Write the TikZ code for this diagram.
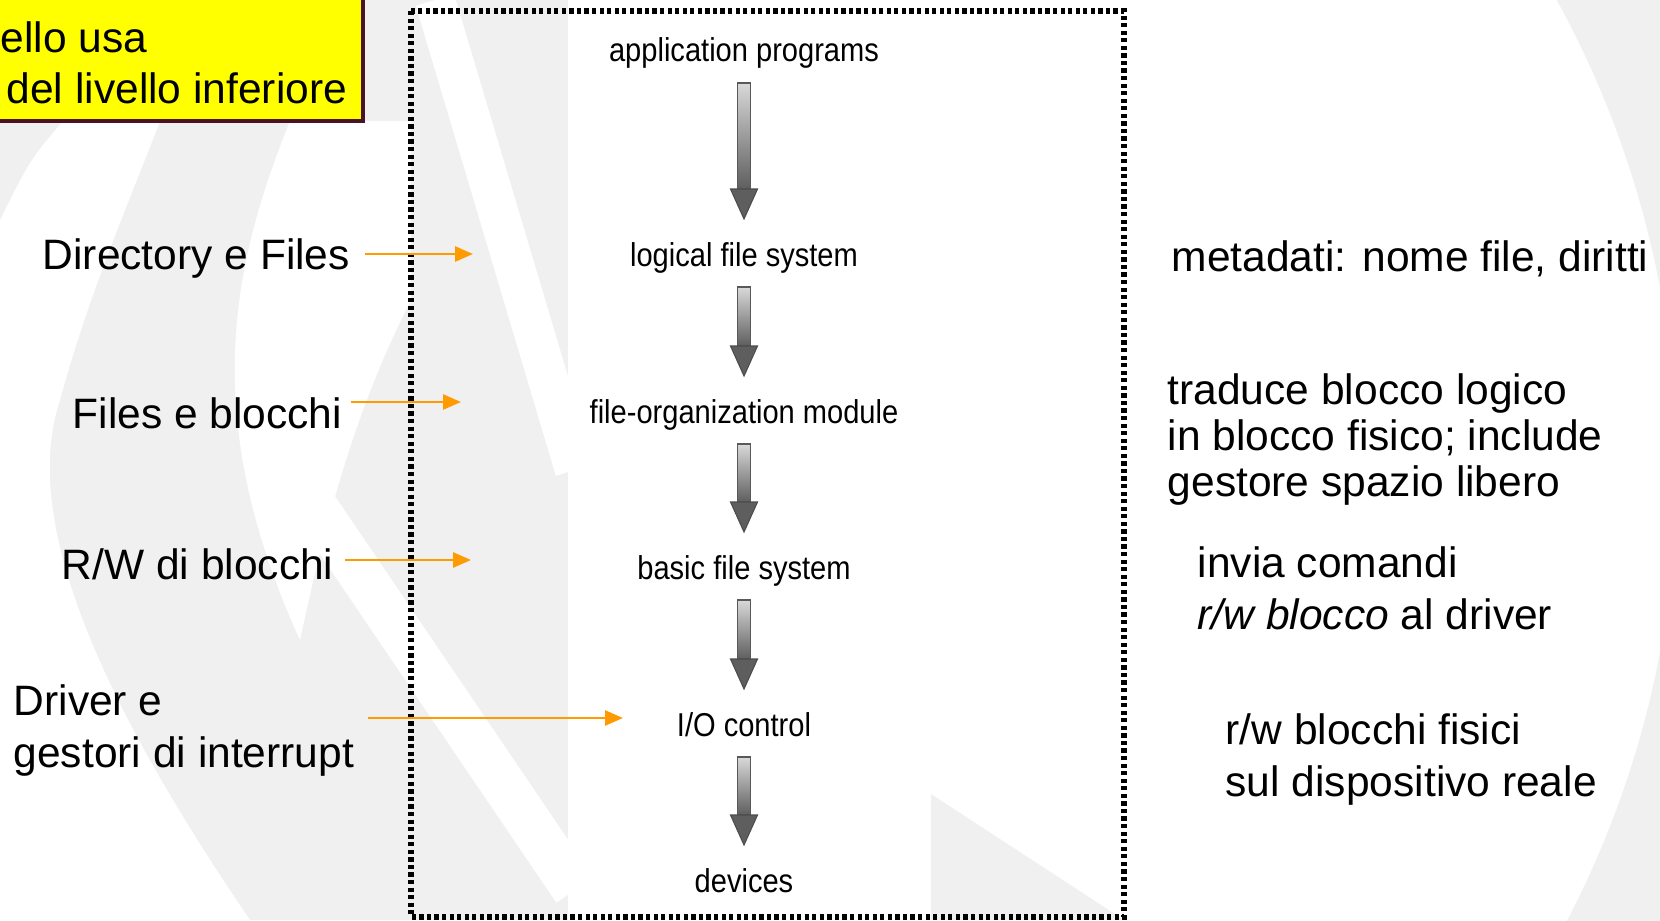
\documentclass[tikz,border=0pt]{standalone}
\usepackage{fontspec}
\setmainfont{Liberation Sans}
\newfontfamily\figfont[FakeStretch=0.88]{Liberation Sans}
\usetikzlibrary{arrows.meta,positioning,calc}
\definecolor{slidebg}{HTML}{F0F0F0}
\definecolor{noteorange}{HTML}{FF9A00}
\definecolor{noteyellow}{HTML}{FFFF00}
\definecolor{noteframe}{HTML}{4A1426}
\definecolor{shaftdark}{HTML}{5E5E5E}

% gray block arrow between two stacked layers
\newcommand{\stackarrow}[2]{%
  \shade[top color=gray!30,bottom color=shaftdark,draw=black!65,line width=0.3pt]
    ($(#1.base)+(-0.065,-0.21)$) rectangle ($(#2.base)+(0.065,0.77)$);
  \fill[shaftdark,draw=black!70,line width=0.3pt]
    ($(#2.base)+(-0.135,0.77)$) -- ($(#2.base)+(0.135,0.77)$)
    -- ($(#2.base)+(0,0.47)$) -- cycle;
}

\begin{document}
\begin{tikzpicture}[
  font=\fontsize{12.1}{14.6}\selectfont,
  layer/.style={font=\figfont\fontsize{9.4}{11}\selectfont,inner sep=0pt,
                anchor=base},
  side/.style={inner sep=0pt,align=left,anchor=base west},
  feed/.style={-{Triangle[length=0.18cm,width=0.15cm]},draw=noteorange,
               line width=0.75pt},
  stripe/.style={draw=white,line cap=butt},
  frame/.style={draw=black,line width=1.6pt,dash pattern=on 1.2pt off 0.95pt}
]
\useasboundingbox (0,0) rectangle (16.6,9.2);
\fill[white] (0,0) rectangle (16.6,9.2);

% slide background swooshes
\fill[slidebg] (0,0) rectangle (5.68,9.2);
\fill[white] (0.63,7.99) .. controls (0.3,7.6) .. (0,7.0) -- (0,0) -- (2.5,0)
  .. controls (1.0,2.2) and (0.2,4.0) .. (0.6,5.2)
  .. controls (0.9,6.3) and (1.3,7.2) .. (1.6,7.99) -- cycle;
\fill[white] (2.9,7.99) .. controls (2.3,6.5) and (2.0,5.0) .. (3.0,2.8)
  .. controls (3.3,4.2) and (3.6,5.2) .. (4.11,6.2) -- (4.11,7.99) -- cycle;
\draw[stripe,line width=0.4cm] (4.35,9.2) -- (5.75,4.5);
\draw[stripe,line width=0.45cm] (2.9,4.5) -- (5.75,0.3);
\fill[white] (5.68,0.03) rectangle (9.31,9.09);
\fill[slidebg] (9.31,1.26) -- (11.24,0) -- (9.31,0) -- cycle;
\begin{scope}
  \clip (11.3,0) rectangle (16.6,9.2);
  \draw[draw=slidebg,line width=1cm] (7.0,4.5) circle (10.27);
\end{scope}

% yellow note, cut by the slide edge
\node[draw=noteframe,line width=1pt,fill=noteyellow,inner sep=0pt,
      minimum width=3.7cm,minimum height=1.26cm,anchor=north east]
  (note) at (3.65,9.27) {};
\node[side] (notea) at (0.0,8.67) {ello usa};
\node[side] (noteb) at (0.06,8.16) {del livello inferiore};

\draw[frame] (4.11,9.09) rectangle (11.24,0.03);

% the layers
\node[layer] (app) at (7.44,8.58) {application programs};
\node[layer] (lfs) at (7.44,6.54) {logical file system};
\node[layer] (fom) at (7.44,4.97) {file-organization module};
\node[layer] (bfs) at (7.44,3.41) {basic file system};
\node[layer] (ioc) at (7.44,1.84) {I/O control};
\node[layer] (dev) at (7.44,0.28) {devices};

\stackarrow{app}{lfs}
\stackarrow{lfs}{fom}
\stackarrow{fom}{bfs}
\stackarrow{bfs}{ioc}
\stackarrow{ioc}{dev}

% what each layer handles
\node[side] (dir) at (0.42,6.51) {Directory e Files};
\node[side] (blk) at (0.72,4.92) {Files e blocchi};
\node[side] (rw) at (0.61,3.41) {R/W di blocchi};
\node[side] (drv) at (0.13,1.53) {Driver e\\gestori di interrupt};

\coordinate (dirtip) at (4.73,6.66);
\coordinate (blktip) at (4.61,5.18);
\coordinate (rwtip) at (4.71,3.60);
\coordinate (drvtip) at (6.23,2.02);

\draw[feed,shorten <=0.14cm] (dir.east |- dirtip) -- (dirtip);
\draw[feed,shorten <=0.08cm] (blk.east |- blktip) -- (blktip);
\draw[feed,shorten <=0.11cm] (rw.east |- rwtip) -- (rwtip);
\draw[feed,shorten <=0.13cm] (drv.east |- drvtip) -- (drvtip);

% notes on the right
\node[side] (meta) at (11.71,6.49) {metadati: nome file, diritti};
\node[side,font=\fontsize{12.1}{12.95}\selectfont] (trad) at (11.67,4.24)
  {traduce blocco logico\\in blocco fisico; include\\gestore spazio libero};
\node[side] (cmd) at (11.97,2.91) {invia comandi\\\textit{r/w blocco} al driver};
\node[side] (phys) at (12.25,1.24) {r/w blocchi fisici\\sul dispositivo reale};
\end{tikzpicture}
\end{document}
